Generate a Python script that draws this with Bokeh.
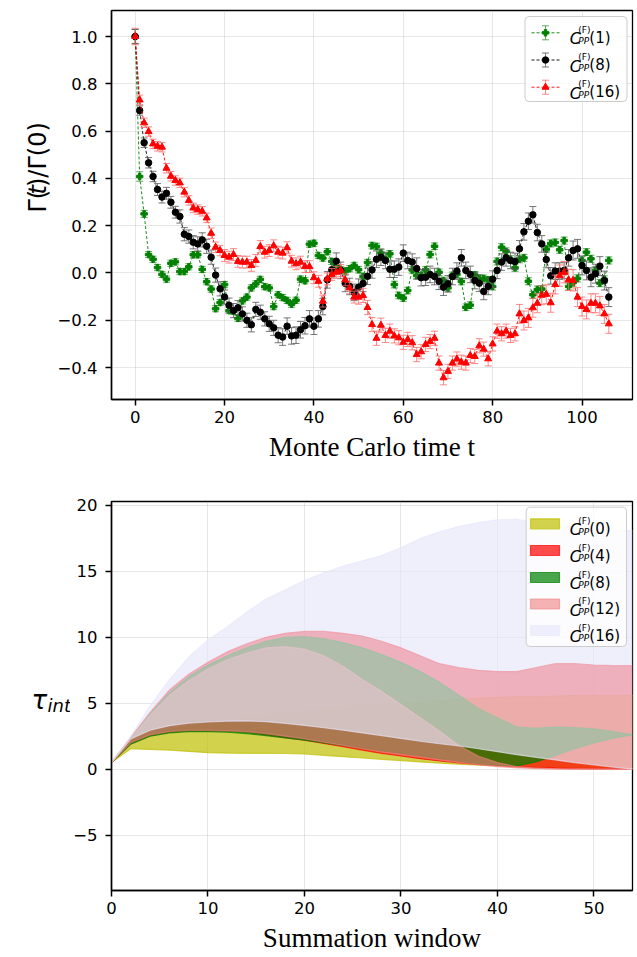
from bokeh.plotting import figure
from bokeh.layouts import column, row
from bokeh.models import Range1d, FixedTicker, CustomJSTickFormatter, Label
from bokeh.embed import file_html
from bokeh.resources import INLINE

# ---------------- top panel data ----------------
t = list(range(107))
c1 = [1.0, 0.408, 0.250, 0.078, 0.058, 0.023, -0.006, -0.026, 0.041, 0.047,
      0.006, 0.006, 0.026, 0.077, 0.077, 0.015, -0.037, -0.068, -0.151, -0.125,
      -0.049, -0.159, -0.162, -0.192, -0.118, -0.102, -0.063, -0.046, -0.027, -0.058,
      -0.063, -0.142, -0.092, -0.104, -0.116, -0.132, -0.115, -0.026, -0.033, 0.122,
      0.126, 0.074, 0.063, 0.090, 0.049, 0.030, 0.015, 0.008, 0.018, 0.032,
      0.014, -0.015, 0.044, 0.116, 0.112, 0.084, 0.058, 0.081, -0.049, -0.095,
      -0.106, -0.074, 0.013, -0.011, -0.010, 0.013, 0.078, 0.113, 0.003, -0.032,
      -0.063, -0.010, -0.006, -0.036, -0.145, -0.136, -0.008, -0.023, -0.023, -0.029,
      -0.057, 0.049, 0.109, 0.091, 0.058, 0.022, 0.058, 0.064, -0.035, -0.092,
      -0.070, -0.068, 0.101, 0.125, 0.129, 0.098, 0.137, -0.057, -0.041, -0.023,
      0.053, 0.088, 0.060, 0.011, -0.043, -0.027, 0.053]
c8 = [1.0, 0.687, 0.551, 0.466, 0.408, 0.353, 0.321, 0.337, 0.299, 0.257,
      0.239, 0.164, 0.154, 0.130, 0.123, 0.140, 0.113, 0.067, -0.009, -0.067,
      -0.102, -0.136, -0.159, -0.147, -0.173, -0.200, -0.219, -0.154, -0.166, -0.194,
      -0.215, -0.232, -0.263, -0.271, -0.225, -0.266, -0.263, -0.240, -0.223, -0.194,
      -0.225, -0.194, -0.142, -0.029, 0.014, 0.050, 0.011, -0.044, -0.057, -0.082,
      -0.060, -0.044, -0.014, 0.013, 0.058, 0.067, 0.053, 0.016, 0.016, 0.025,
      0.084, 0.053, 0.046, 0.019, -0.020, -0.018, -0.006, -0.015, -0.035, -0.060,
      -0.046, -0.015, 0.008, 0.064, 0.011, -0.006, -0.032, -0.043, -0.078, -0.057,
      -0.026, 0.011, 0.046, 0.064, 0.053, 0.049, 0.102, 0.174, 0.219, 0.246,
      0.171, 0.123, 0.057, -0.012, 0.008, 0.008, 0.011, 0.064, 0.095, 0.102,
      0.032, 0.011, -0.018, -0.003, 0.029, -0.032, -0.102]
c16 = [1.0, 0.732, 0.635, 0.598, 0.546, 0.536, 0.532, 0.443, 0.409, 0.391,
       0.381, 0.342, 0.307, 0.275, 0.268, 0.261, 0.233, 0.168, 0.109, 0.095,
       0.074, 0.067, 0.078, 0.049, 0.046, 0.046, 0.032, 0.053, 0.112, 0.088,
       0.095, 0.115, 0.088, 0.084, 0.107, 0.050, 0.039, 0.046, 0.027, 0.027,
       -0.020, -0.035, -0.119, -0.025, -0.006, 0.003, 0.011, -0.029, -0.063, -0.102,
       -0.102, -0.095, -0.146, -0.218, -0.276, -0.221, -0.264, -0.246, -0.266, -0.274,
       -0.293, -0.281, -0.295, -0.345, -0.333, -0.302, -0.290, -0.276, -0.381, -0.443,
       -0.416, -0.381, -0.364, -0.377, -0.381, -0.349, -0.353, -0.308, -0.322, -0.363,
       -0.300, -0.246, -0.257, -0.246, -0.264, -0.257, -0.173, -0.201, -0.190, -0.147,
       -0.128, -0.094, -0.090, -0.126, -0.049, -0.011, 0.003, -0.029, -0.031, -0.102,
       -0.142, -0.154, -0.128, -0.128, -0.139, -0.173, -0.215]
e1 = [0.030, 0.020, 0.015, 0.013, 0.013, 0.013, 0.013, 0.013, 0.013, 0.013,
      0.013, 0.013, 0.013, 0.013, 0.013, 0.013, 0.013, 0.013, 0.013, 0.013,
      0.013, 0.013, 0.013, 0.013, 0.013, 0.013, 0.013, 0.013, 0.013, 0.013,
      0.013, 0.013, 0.013, 0.013, 0.013, 0.013, 0.013, 0.013, 0.013, 0.013,
      0.013, 0.013, 0.013, 0.013, 0.013, 0.013, 0.013, 0.013, 0.013, 0.013,
      0.014, 0.014, 0.014, 0.014, 0.014, 0.014, 0.014, 0.014, 0.014, 0.014,
      0.014, 0.014, 0.014, 0.014, 0.014, 0.014, 0.014, 0.014, 0.014, 0.014,
      0.014, 0.014, 0.014, 0.014, 0.014, 0.014, 0.014, 0.014, 0.014, 0.014,
      0.015, 0.015, 0.015, 0.015, 0.015, 0.015, 0.015, 0.015, 0.015, 0.015,
      0.015, 0.015, 0.015, 0.015, 0.015, 0.015, 0.015, 0.015, 0.015, 0.015,
      0.015, 0.015, 0.015, 0.015, 0.015, 0.015, 0.015]
e8 = [0.030, 0.020, 0.020, 0.022, 0.022, 0.025, 0.025, 0.025, 0.025, 0.025,
      0.028, 0.028, 0.028, 0.028, 0.030, 0.030, 0.030, 0.030, 0.030, 0.030,
      0.030, 0.030, 0.030, 0.030, 0.030, 0.030, 0.030, 0.030, 0.030, 0.030,
      0.032, 0.032, 0.032, 0.035, 0.035, 0.035, 0.035, 0.035, 0.035, 0.035,
      0.035, 0.035, 0.035, 0.035, 0.035, 0.035, 0.035, 0.035, 0.035, 0.035,
      0.035, 0.035, 0.035, 0.035, 0.035, 0.035, 0.035, 0.035, 0.035, 0.035,
      0.035, 0.035, 0.035, 0.045, 0.035, 0.035, 0.035, 0.035, 0.035, 0.035,
      0.035, 0.035, 0.035, 0.035, 0.035, 0.035, 0.035, 0.035, 0.035, 0.035,
      0.035, 0.035, 0.035, 0.035, 0.035, 0.035, 0.035, 0.035, 0.035, 0.035,
      0.035, 0.035, 0.035, 0.035, 0.035, 0.035, 0.035, 0.035, 0.040, 0.040,
      0.040, 0.040, 0.040, 0.040, 0.040, 0.040, 0.040]
e16 = [0.035, 0.020, 0.020, 0.020, 0.020, 0.020, 0.020, 0.020, 0.020, 0.020,
       0.020, 0.020, 0.020, 0.020, 0.020, 0.020, 0.020, 0.022, 0.022, 0.022,
       0.025, 0.025, 0.025, 0.025, 0.025, 0.025, 0.025, 0.025, 0.025, 0.025,
       0.025, 0.025, 0.025, 0.025, 0.025, 0.025, 0.025, 0.025, 0.025, 0.025,
       0.025, 0.025, 0.025, 0.025, 0.025, 0.025, 0.025, 0.025, 0.025, 0.025,
       0.030, 0.030, 0.030, 0.030, 0.030, 0.030, 0.030, 0.030, 0.030, 0.030,
       0.030, 0.030, 0.030, 0.030, 0.030, 0.030, 0.030, 0.030, 0.030, 0.030,
       0.030, 0.030, 0.030, 0.030, 0.030, 0.030, 0.030, 0.030, 0.030, 0.030,
       0.030, 0.030, 0.030, 0.030, 0.030, 0.030, 0.040, 0.040, 0.040, 0.040,
       0.040, 0.040, 0.040, 0.040, 0.040, 0.045, 0.045, 0.045, 0.045, 0.040,
       0.040, 0.040, 0.040, 0.040, 0.040, 0.040, 0.040]
top_labels = ["(1)", "(8)", "(16)"]

# ---------------- bottom panel data ----------------
window = [0, 2, 4, 6, 8, 10, 12, 14, 16, 18, 20, 22, 24, 26, 28, 30, 32, 34, 36, 38,
          40, 42, 44, 46, 48, 50, 52, 54]
c0_lo = [0.5, 1.55, 1.5, 1.45, 1.35, 1.25, 1.22, 1.2, 1.2, 1.19, 1.15, 1.05, 0.95, 0.85,
         0.75, 0.65, 0.55, 0.45, 0.38, 0.3, 0.25, 0.2, 0.15, 0.12, 0.1, 0.08, 0.06, 0.05]
c0_hi = [0.5, 2.0, 2.6, 3.0, 3.3, 3.5, 3.7, 3.9, 4.1, 4.3, 4.45, 4.6, 4.7, 4.8,
         4.9, 5.0, 5.1, 5.2, 5.3, 5.4, 5.45, 5.5, 5.5, 5.55, 5.6, 5.6, 5.6, 5.6]
c4_lo = [0.5, 1.95, 2.55, 2.8, 2.9, 2.9, 2.88, 2.83, 2.6, 2.4, 2.2, 1.95, 1.7, 1.45,
         1.2, 1.0, 0.8, 0.62, 0.48, 0.36, 0.26, 0.18, 0.12, 0.08, 0.05, 0.03, 0.02, 0.0]
c4_hi = [0.5, 2.4, 4.3, 6.0, 7.2, 8.1, 8.9, 9.5, 10.0, 10.3, 10.45, 10.45, 10.3, 10.1,
         9.7, 9.2, 8.6, 8.0, 7.7, 7.5, 7.4, 7.4, 7.7, 8.0, 8.0, 7.9, 7.85, 7.85]
c8_lo = [0.5, 1.9, 2.5, 2.75, 2.85, 2.85, 2.8, 2.7, 2.55, 2.38, 2.2, 2.0, 1.8, 1.6,
         1.4, 1.2, 1.0, 0.8, 0.6, 0.42, 0.3, 0.25, 0.55, 1.05, 1.55, 2.0, 2.35, 2.6]
c8_hi = [0.5, 2.3, 4.2, 5.8, 7.0, 7.9, 8.6, 9.2, 9.7, 10.0, 10.05, 9.9, 9.6, 9.2,
         8.7, 8.1, 7.4, 6.6, 5.6, 4.6, 3.9, 3.2, 3.1, 3.2, 3.15, 3.05, 2.85, 2.6]
c12_lo = [0.5, 2.0, 2.6, 2.85, 2.95, 2.95, 2.9, 2.85, 2.7, 2.5, 2.3, 2.05, 1.8, 1.55,
          1.3, 1.1, 0.9, 0.7, 0.5, 0.35, 0.2, 0.1, 0.05, 0.02, 0.0, 0.0, 0.0, 0.0]
c12_hi = [0.5, 2.3, 4.1, 5.6, 6.7, 7.6, 8.3, 8.8, 9.2, 9.3, 9.1, 8.6, 7.8, 6.8,
          5.9, 4.9, 3.9, 2.9, 1.8, 1.0, 0.5, 0.2, 0.08, 0.03, 0.0, 0.0, 0.0, 0.0]
c16_lo = [0.5, 2.3, 2.95, 3.3, 3.5, 3.58, 3.64, 3.66, 3.6, 3.48, 3.32, 3.14, 2.96, 2.75,
          2.55, 2.33, 2.12, 1.93, 1.77, 1.55, 1.33, 1.1, 0.9, 0.7, 0.5, 0.33, 0.16, 0.0]
c16_hi = [0.5, 2.5, 4.8, 6.8, 8.5, 9.8, 10.8, 11.9, 12.9, 13.6, 14.3, 14.9, 15.4, 15.8,
          16.2, 16.8, 17.5, 18.0, 18.4, 18.7, 18.9, 18.95, 18.7, 18.5, 18.3, 18.2, 18.1, 18.1]
bottom_labels = ["(0)", "(4)", "(8)", "(12)", "(16)"]

# ---------------- layout constants ----------------
W = 637
FL, FR = 111, 632          # page x of frame edges
FW = FR - FL
FH = 389
X1 = (-5.3, 111.3)
Y1 = (-0.535, 1.11)
X2 = (0, 54)
Y2 = (-9.2, 20.3)
H1, H2 = 490, 467
TOP1 = 10                  # page y of frame top, panel 1
TOP2 = H1 + 11             # page y of frame top, panel 2
LW1, LW2 = 52, 70          # widths of the side strips holding the y labels


def conv(px, py, xr, yr, top):
    x = xr[0] + (px - FL) / FW * (xr[1] - xr[0])
    y = yr[1] - (py - top) / FH * (yr[1] - yr[0])
    return x, y


def make_fig(width, height, top, bottom, left, xr, yr, xticks, yticks, xlabel, yfmt):
    p = figure(width=width, height=height, x_range=Range1d(*xr), y_range=Range1d(*yr),
               output_backend="svg", toolbar_location=None,
               min_border_left=left, min_border_right=W - FR,
               min_border_top=top, min_border_bottom=bottom)
    p.xaxis.ticker = FixedTicker(ticks=xticks)
    p.yaxis.ticker = FixedTicker(ticks=yticks)
    p.yaxis.formatter = CustomJSTickFormatter(code=yfmt)
    for ax in (p.xaxis[0], p.yaxis[0]):
        ax.axis_line_width = 1.5
        ax.axis_line_color = "black"
        ax.major_tick_line_width = 1.5
        ax.major_tick_line_color = "black"
        ax.major_tick_out = 6
        ax.major_tick_in = 0
        ax.minor_tick_line_color = None
        ax.major_label_text_font = "DejaVu Sans"
        ax.major_label_text_font_size = "16.5px"
        ax.major_label_text_color = "black"
    p.xaxis.major_label_standoff = 5
    p.yaxis.major_label_standoff = 8
    p.xaxis.axis_label = xlabel
    p.xaxis.axis_label_text_font = "Liberation Serif"
    p.xaxis.axis_label_text_font_size = "27px"
    p.xaxis.axis_label_text_font_style = "normal"
    p.xaxis.axis_label_text_color = "black"
    p.xaxis.axis_label_standoff = 6
    p.grid.grid_line_color = "#b0b0b0"
    p.grid.grid_line_alpha = 0.3
    p.grid.grid_line_width = 1
    p.outline_line_color = "black"
    p.outline_line_width = 1.3
    p.outline_line_alpha = 1
    p.background_fill_color = "white"
    p.border_fill_color = "white"
    return p


def strip(width, height):
    f = figure(width=width, height=height, x_range=Range1d(0, width),
               y_range=Range1d(0, height), output_backend="svg", toolbar_location=None,
               x_axis_location=None, y_axis_location=None, min_border=0)
    f.grid.visible = False
    f.outline_line_color = None
    f.border_fill_color = "white"
    return f


def label(p, x, y, text, size, style="normal", angle=0):
    p.add_layout(Label(x=x, y=y, text=text, text_font="DejaVu Sans",
                       text_font_size=size, text_font_style=style,
                       text_color="black", text_baseline="alphabetic",
                       text_align="left", angle=angle, angle_units="deg"))


def entry_text(p, cv, xt, yc, num):
    label(p, *cv(xt, yc + 6), "C", "16px", "italic")
    label(p, *cv(xt + 8.5, yc - 2.8), "(F)", "9px")
    label(p, *cv(xt + 8.5, yc + 7.7), "PP", "9px", "italic")
    label(p, *cv(xt + 19.5, yc + 5.2), num, "15px")


# ================= top panel =================
p1 = make_fig(W - LW1, H1, TOP1, H1 - TOP1 - FH, FL - LW1, X1, Y1,
              [0, 20, 40, 60, 80, 100],
              [-0.4, -0.2, 0.0, 0.2, 0.4, 0.6, 0.8, 1.0], "Monte Carlo time t",
              "return tick.toFixed(1).replace('-', '\u2212');")

series = [
    (c1, e1, "green", "plus", 6.5, "#3a9a3a"),
    (c8, e8, "black", "circle", 6.5, "#555555"),
    (c16, e16, "red", "triangle", 7, "#ff6a6a"),
]
for vals, errs, col, mk, sz, ecol in series:
    lo = [v - e for v, e in zip(vals, errs)]
    hi = [v + e for v, e in zip(vals, errs)]
    p1.line(t, vals, line_color=col, line_width=0.9, line_dash="3 2")
    p1.segment(x0=t, y0=lo, x1=t, y1=hi, line_color=ecol, line_width=1, line_alpha=0.8)
    p1.scatter(t, lo, marker="dash", size=7, line_color=ecol, line_width=1, line_alpha=0.8)
    p1.scatter(t, hi, marker="dash", size=7, line_color=ecol, line_width=1, line_alpha=0.8)
    p1.scatter(t, vals, marker=mk, size=sz, fill_color=col, line_color=col)

cv1 = lambda px, py: conv(px, py, X1, Y1, TOP1)
bl, bt = cv1(524.5, 16)
br, bb = cv1(626.5, 101)
p1.quad(left=[bl], right=[br], top=[bt], bottom=[bb], fill_color="white",
        fill_alpha=0.8, line_color="#cccccc", line_width=1, border_radius=4)
rows1 = [32.3, 59.5, 86.7]
for (vals, errs, col, mk, sz, ecol), yc, lab in zip(series, rows1, top_labels):
    xa, ya = cv1(531, yc)
    xb, _ = cv1(559, yc)
    xm, _ = cv1(545, yc)
    _, ylo = cv1(545, yc + 7)
    _, yhi = cv1(545, yc - 7)
    p1.line([xa, xb], [ya, ya], line_color=col, line_width=0.9, line_dash="3 2")
    p1.segment(x0=[xm], y0=[ylo], x1=[xm], y1=[yhi], line_color=ecol, line_width=1, line_alpha=0.8)
    p1.scatter([xm, xm], [ylo, yhi], marker="dash", size=7, line_color=ecol, line_width=1, line_alpha=0.8)
    p1.scatter([xm], [ya], marker=mk, size=sz, fill_color=col, line_color=col)
    entry_text(p1, cv1, 569.3, yc, lab)

# side strip with the rotated y label  Γ(t)/Γ(0)
s1 = strip(LW1, H1)
yl_x = 37
label(s1, yl_x, H1 - 254.5, "\u0393(", "24px", angle=90)
label(s1, yl_x, H1 - 231.8, "t", "24px", "italic", angle=90)
label(s1, yl_x, H1 - 222.4, ")/\u0393(0)", "24px", angle=90)

# ================= bottom panel =================
p2 = make_fig(W - LW2, H2, TOP2 - H1, H2 - (TOP2 - H1) - FH, FL - LW2, X2, Y2,
              [0, 10, 20, 30, 40, 50],
              [-5, 0, 5, 10, 15, 20], "Summation window",
              "return tick.toFixed(0).replace('-', '\u2212');")

bands = [
    (c0_lo, c0_hi, "#bfbf00", 0.7),
    (c4_lo, c4_hi, "#ff0000", 0.7),
    (c8_lo, c8_hi, "#008000", 0.7),
    (c12_lo, c12_hi, "#f08080", 0.6),
    (c16_lo, c16_hi, "#e6e6fa", 0.65),
]
for lo, hi, col, a in bands:
    p2.varea(x=window, y1=lo, y2=hi, fill_color=col, fill_alpha=a)
    p2.line(window, lo, line_color=col, line_alpha=a, line_width=1.2)
    p2.line(window, hi, line_color=col, line_alpha=a, line_width=1.2)

cv2 = lambda px, py: conv(px, py, X2, Y2, TOP2)
bl, bt = cv2(525.7, 506.7)
br, bb = cv2(626, 646)
p2.quad(left=[bl], right=[br], top=[bt], bottom=[bb], fill_color="white",
        fill_alpha=0.8, line_color="#cccccc", line_width=1, border_radius=4)
rows2 = [523.3, 550.0, 577.0, 603.5, 630.0]
for (lo, hi, col, a), yc, lab in zip(bands, rows2, bottom_labels):
    l, tp = cv2(530, yc - 5)
    r, bm = cv2(559, yc + 5)
    p2.quad(left=[l], right=[r], top=[tp], bottom=[bm], fill_color=col, fill_alpha=a,
            line_color=col, line_alpha=a, line_width=1.2)
    entry_text(p2, cv2, 569.3, yc, lab)

# side strip with the y label  τ_int
s2 = strip(LW2, H2)
label(s2, 31, H2 - (728 - H1), "\u03c4", "26px", "italic")
label(s2, 47, H2 - (735 - H1), "int", "18px", "italic")

layout = column(row(s1, p1), row(s2, p2))
open("out.html", "w").write(file_html(layout, INLINE))
